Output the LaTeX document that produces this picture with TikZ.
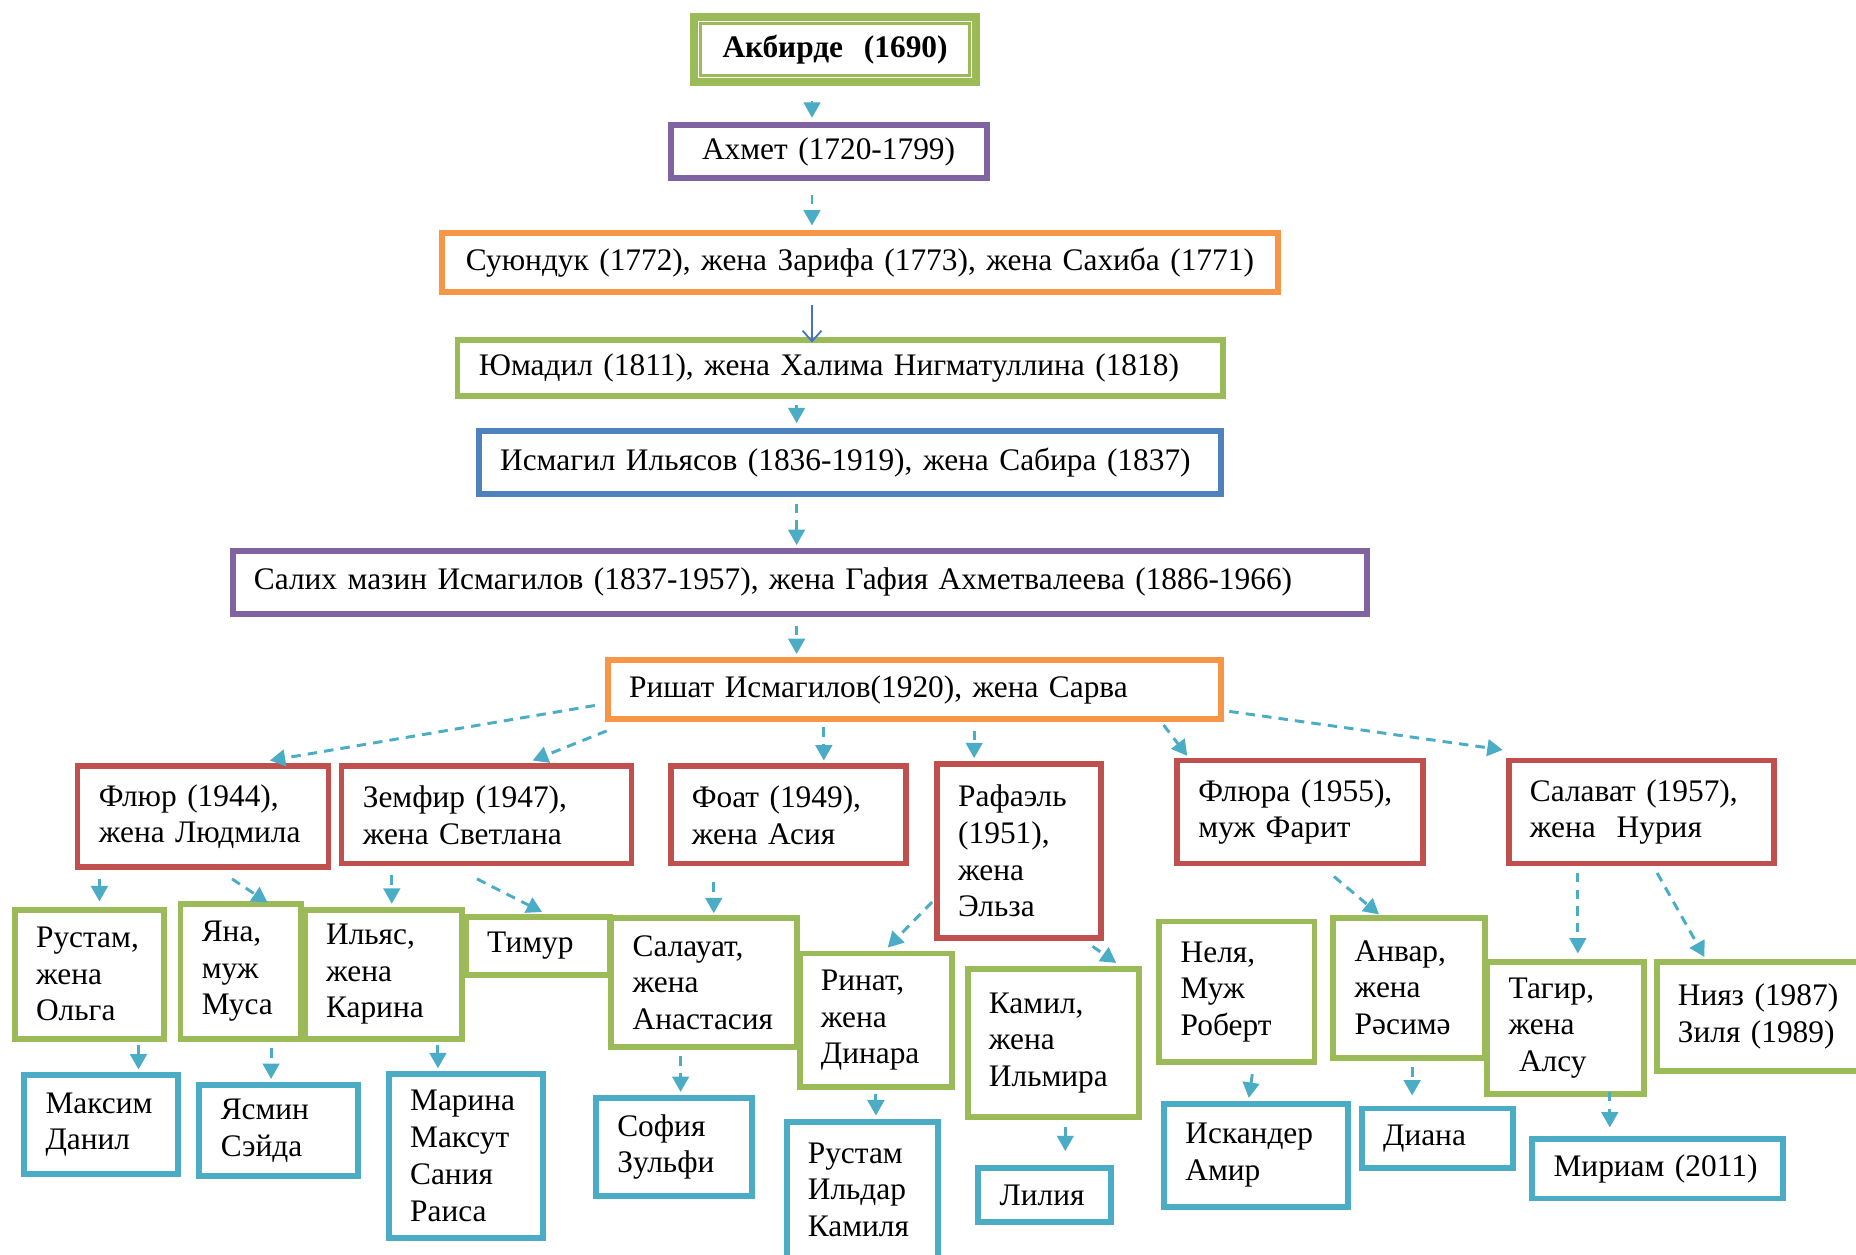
\documentclass[tikz,border=0pt]{standalone}
\usepackage{fontspec}
\setmainfont{Liberation Serif}
\usepackage{tikz}
\usetikzlibrary{calc, positioning, arrows.meta}

\definecolor{cgreen}{HTML}{9BBB59}
\definecolor{cpurple}{HTML}{8064A2}
\definecolor{corange}{HTML}{F79646}
\definecolor{cblue}{HTML}{4F81BD}
\definecolor{cred}{HTML}{C0504D}
\definecolor{ccyan}{HTML}{4BACC6}
\definecolor{cdark}{HTML}{4472C4}

\begin{document}
\begin{tikzpicture}[x=1pt, y=-1pt,
      pers/.style={rectangle, draw, line width=5pt, fill=white, align=left, inner xsep=18pt, inner ysep=3pt, font=\fontsize{26.5}{31}\selectfont, execute at begin node={\exhyphenpenalty=10000\relax}},
      link/.style={ccyan, line width=2.5pt, dash pattern=on 8pt off 6pt, -{Triangle[length=13pt, width=14pt]}},
      ]
      \useasboundingbox (0,0) rectangle (1568,1060);

      %Nodes
      \node[pers, draw=cgreen, line width=7pt, align=center, font=\fontsize{26.5}{31}\selectfont\bfseries, text width=202pt, minimum height=55pt] (akbirde) at (705.5,42) {\raisebox{-4pt}{Акбирде~~(1690)}};
      \draw[cgreen, line width=2.5pt] ($(akbirde.north west)+(9,9)$) rectangle ($(akbirde.south east)+(-9,-9)$);
      \node[pers, draw=cpurple, align=center, text width=231pt, minimum height=45pt] (akhmet) at (700,128) {\raisebox{-3pt}{Ахмет~(1720-1799)}};
      \node[pers, draw=corange, align=center, text width=670pt, minimum height=50pt] (suyunduk) at (726.5,221.5) {Суюндук~(1772),~жена~Зарифа~(1773),~жена~Сахиба~(1771)};
      \node[pers, draw=cgreen, text width=611pt, minimum height=47pt] (yumadil) at (710,311) {Юмадил~(1811),~жена~Халима~Нигматуллина~(1818)};
      \node[pers, draw=cblue, text width=591pt, minimum height=53pt] (ismagil) at (718,391) {Исмагил~Ильясов~(1836-1919),~жена~Сабира~(1837)};
      \node[pers, draw=cpurple, text width=922pt, minimum height=53pt] (salikh) at (675.5,492) {Салих~мазин~Исмагилов~(1837-1957),~жена~Гафия~Ахметвалеева~(1886-1966)};
      \node[pers, draw=corange, text width=482pt, minimum height=50pt] (rishat) at (772.5,582.5) {Ришат~Исмагилов(1920),~жена~Сарва};

      \node[pers, draw=cred, text width=176pt, minimum height=85pt] (flyur) at (171.5,690) {Флюр~(1944),\\жена~Людмила};
      \node[pers, draw=cred, text width=209pt, minimum height=82pt] (zemfir) at (411,688.5) {Земфир~(1947),\\жена~Светлана};
      \node[pers, draw=cred, text width=163pt, minimum height=82pt] (foat) at (666,688.5) {Фоат~(1949),\\жена~Асия};
      \node[pers, draw=cred, text width=103pt, minimum height=147pt] (rafael) at (861,719) {Рафаэль\\(1951),\\жена\\Эльза};
      \node[pers, draw=cred, text width=172pt, minimum height=87pt] (flyura) at (1098.5,686) {Флюра~(1955),\\муж~Фарит};
      \node[pers, draw=cred, text width=188pt, minimum height=87pt] (salavat) at (1386.5,686) {Салават~(1957),\\жена~~Нурия};

      \node[pers, draw=cgreen, text width=90pt, minimum height=109pt] (rustam) at (75.5,823) {Рустам,\\жена\\Ольга};
      \node[pers, draw=cgreen, text width=66pt, minimum height=114pt] (yana) at (203.5,820.5) {Яна,\\муж\\Муса};
      \node[pers, draw=cgreen, text width=97pt, minimum height=109pt] (ilyas) at (324,823) {Ильяс,\\жена\\Карина};
      \node[pers, draw=cgreen, text width=86pt, minimum height=49pt] (timur) at (454.5,799) {Тимур};
      \node[pers, draw=cgreen, text width=121pt, minimum height=109pt] (salauat) at (595,830) {Салауат,\\жена\\Анастасия};
      \node[pers, draw=cgreen, text width=93pt, minimum height=113pt] (rinat) at (740,862) {Ринат,\\жена\\Динара};
      \node[pers, draw=cgreen, text width=109pt, minimum height=125pt] (kamil) at (890,881) {Камил,\\жена\\Ильмира};
      \node[pers, draw=cgreen, text width=95pt, minimum height=119pt] (nelya) at (1045,838) {Неля,\\Муж\\Роберт};
      \node[pers, draw=cgreen, text width=92pt, minimum height=118pt] (anvar) at (1190.5,834.5) {Анвар,\\жена\\Рәсимә};
      \node[pers, draw=cgreen, text width=96pt, minimum height=112pt] (tagir) at (1322.5,868.5) {Тагир,\\жена\\~Алсу};
      \node[pers, draw=cgreen, text width=142pt, minimum height=92pt] (niyaz) at (1488.5,858.5) {Нияз~(1987)\\Зиля~(1989)};

      \node[pers, draw=ccyan, text width=94pt, minimum height=83pt] (maksim) at (85.5,950) {Максим\\Данил};
      \node[pers, draw=ccyan, text width=98pt, minimum height=77pt] (yasmin) at (235.5,955) {Ясмин\\Сэйда};
      \node[pers, draw=ccyan, text width=94pt, minimum height=138pt] (marina) at (393.5,976.5) {Марина\\Максут\\Сания\\Раиса};
      \node[pers, draw=ccyan, text width=96pt, minimum height=83pt] (sofia) at (569.5,969) {София\\Зульфи};
      \node[pers, draw=ccyan, text width=92pt, minimum height=115pt] (rustamb) at (728.5,1005) {Рустам\\Ильдар\\Камиля};
      \node[pers, draw=ccyan, text width=76pt, minimum height=46pt] (liliya) at (882.5,1009.5) {Лилия};
      \node[pers, draw=ccyan, text width=119pt, minimum height=87pt] (iskander) at (1061,976) {Искандер\\Амир};
      \node[pers, draw=ccyan, text width=92pt, minimum height=50pt] (diana) at (1214.5,961.5) {Диана};
      \node[pers, draw=ccyan, text width=176pt, minimum height=50pt] (miriam) at (1400.5,987.5) {Мириам~(2011)};

      %Lines
      \draw[link] ($(akbirde.south)+(-19.5,12.5)$) -- ($(akhmet.north)+(-14,-3.5)$);
      \draw[link] ($(akhmet.south)+(-14,11.5)$) -- ($(suyunduk.north)+(-40.5,-3.5)$);
      \draw[cdark, line width=1.5pt, -{Straight Barb[length=9pt, width=16pt]}] ($(suyunduk.south)+(-40.5,8.5)$) -- ($(yumadil.north)+(-24,4.5)$);
      \draw[link] ($(yumadil.south)+(-37,5.5)$) -- ($(ismagil.north)+(-45,-4.5)$);
      \draw[link] ($(ismagil.south)+(-45,5.5)$) -- ($(salikh.north)+(-2.5,-2.5)$);
      \draw[link] ($(salikh.south)+(-2.5,7.5)$) -- ($(rishat.north)+(-99.5,-2.5)$);

      \draw[link] ($(rishat.west)+(-8.5,13.5)$) -- ($(flyur.north)+(56.5,-2.5)$);
      \draw[link] ($(rishat.south west)+(1.5,7.5)$) -- ($(zemfir.north)+(39,-2.5)$);
      \draw[link] ($(rishat.south)+(-76.5,4.5)$) -- ($(foat.north)+(30,-2.5)$);
      \draw[link] ($(rishat.south)+(50.5,7.5)$) -- ($(rafael.north)+(-38,-2.5)$);
      \draw[link] ($(rishat.south)+(210.5,2.5)$) -- ($(flyura.north)+(-95.5,-1.5)$);
      \draw[link] ($(rishat.east)+(4.5,18.5)$) -- ($(salavat.north west)+(-2.5,-6.5)$);

      \draw[link] ($(flyur.south)+(-87.5,7.5)$) -- ($(rustam.north)+(8.5,-4.5)$);
      \draw[link] ($(flyur.south)+(24.5,7.5)$) -- ($(yana.north)+(22.5,1.5)$);
      \draw[link] ($(zemfir.south)+(-80,7.5)$) -- ($(ilyas.north)+(7,-2.5)$);
      \draw[link] ($(zemfir.south)+(-8,10.5)$) -- ($(timur.north)+(3.5,-1.5)$);
      \draw[link] ($(foat.south)+(-63,13.5)$) -- ($(salauat.north)+(8,-1.5)$);
      \draw[link] ($(rafael.west)+(-1.5,43)$) -- ($(rinat.north)+(10,-2.5)$);
      \draw[link] ($(rafael.south)+(62,4.5)$) -- ($(kamil.north)+(53,-2.5)$);
      \draw[link] ($(flyura.south)+(28.5,8.5)$) -- ($(anvar.north)+(-25.5,-0.5)$);
      \draw[link] ($(salavat.south)+(-53.5,5.5)$) -- ($(tagir.north)+(10.5,-4.5)$);
      \draw[link] ($(salavat.south)+(13.5,5.5)$) -- ($(niyaz.north)+(-48.5,-1.5)$);

      \draw[link] ($(rustam.south)+(41.5,2.5)$) -- ($(maksim.north)+(31.5,-2.5)$);
      \draw[link] ($(yana.south)+(25.5,5.5)$) -- ($(yasmin.north)+(-6.5,-2.5)$);
      \draw[link] ($(ilyas.south)+(46,2.5)$) -- ($(marina.north)+(-23.5,-2.5)$);
      \draw[link] ($(salauat.south)+(-20,5.5)$) -- ($(sofia.north)+(5.5,-2.5)$);
      \draw[link] ($(rinat.south)+(0,3.5)$) -- ($(rustamb.north)+(11.5,-2.5)$);
      \draw[link] ($(kamil.south)+(10,6.5)$) -- ($(liliya.north)+(17.5,-11.5)$);
      \draw[link] ($(nelya.south)+(13,7.5)$) -- ($(iskander.north)+(-6,-2.5)$);
      \draw[link] ($(anvar.south)+(2.5,5.5)$) -- ($(diana.north)+(-21.5,-8.5)$);
      \draw[link] ($(tagir.south)+(37.5,-4.5)$) -- ($(miriam.north)+(-40.5,-7.5)$);
    \end{tikzpicture}
\end{document}
